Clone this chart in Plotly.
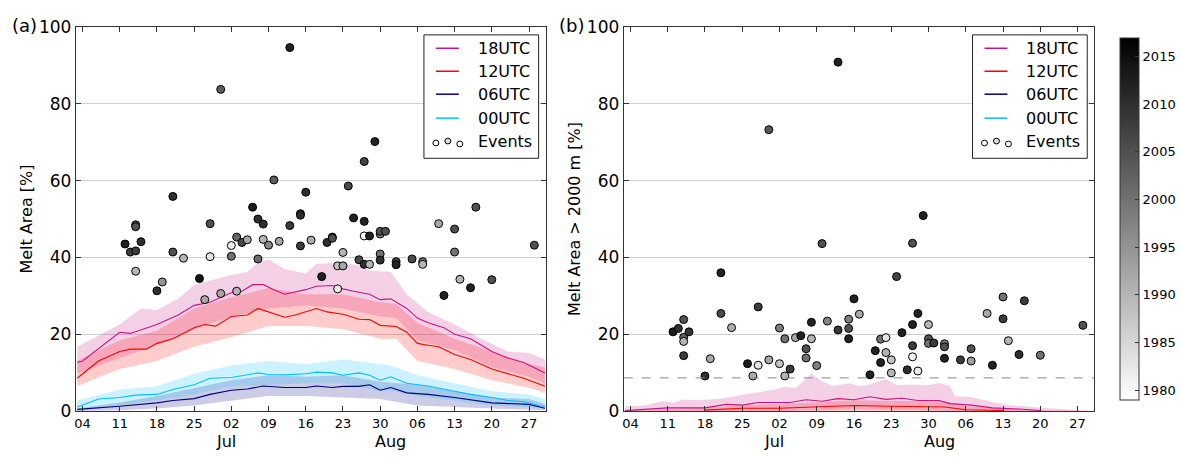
import plotly.graph_objects as go

YEAR = "2001"

def d(lst):
    return [f"{YEAR}-{s}" for s in lst]

# ---------------- Panel (a) : Melt Area [%] ----------------
a18_dates = ["06-03","06-04","06-11","06-13","06-18","06-22","06-25","06-28","07-02","07-04","07-06","07-08",
             "07-10","07-12","07-16","07-18","07-21","07-23","07-25","07-28","07-30","08-01","08-04","08-06",
             "08-08","08-11","08-13","08-16","08-20","08-23","08-26","08-30"]
a18_mean = [12.6,13,20.5,20.2,22.5,25,27.5,28.3,30.8,31.2,32.9,32.9,31.6,30.4,31.6,32.5,32.7,31.8,31.2,30.4,
            29,29.2,26.7,24.2,23,21.7,20,18.8,15.5,13.8,12.6,9.9]
a18_up_dates = ["06-03","06-11","06-15","06-18","06-22","06-25","07-02","07-05","07-07","07-09","07-12","07-16",
                "07-18","07-23","07-26","07-28","08-01","08-04","08-08","08-13","08-18","08-23","08-27","08-30"]
a18_up = [16.7,22.5,26.7,26.3,29.2,32.9,35.4,36.2,38.7,39.5,37,35.8,38.3,38.7,37.9,36.6,36.2,30.4,25.8,22.5,
          18.8,15.5,15.1,13.4]
a18_lo_dates = ["06-03","06-11","06-18","06-25","07-02","07-09","07-16","07-23","07-30","08-02","08-06","08-13",
                "08-20","08-27","08-30"]
a18_lo = [9.7,13.8,17.1,21.3,24.6,26.7,27.5,26.7,24.6,24.2,18.4,15.9,11.4,8.9,7.2]

a12_dates = ["06-03","06-07","06-11","06-13","06-16","06-18","06-21","06-25","06-27","06-29","07-02","07-05",
             "07-07","07-09","07-12","07-14","07-16","07-18","07-20","07-23","07-26","07-28","07-30","08-02",
             "08-04","08-06","08-08","08-10","08-13","08-16","08-20","08-23","08-26","08-30"]
a12_mean = [8.5,13,15.5,16.1,16.1,17.6,18.8,21.7,22.5,22.1,24.6,25,26.7,25.8,24.4,25,25.8,26.7,25.8,25.2,
            23.9,23.8,22.3,22,20.5,17.6,17.1,16.7,14.7,13.4,10.9,9.7,8.5,6.4]
a12_band_dates = ["06-03","06-11","06-18","06-25","07-02","07-09","07-16","07-23","07-30","08-02","08-06",
                  "08-13","08-20","08-27","08-30"]
a12_up = [13,18.4,20.9,26.7,29.6,32,30.4,30.4,28.3,27.9,23,18.8,15.5,12.2,11.4]
a12_lo = [6.4,10.9,13,16.7,19.2,22.1,22.1,21.3,18.8,18.8,13,10.9,8,6,4.7]

a00_dates = ["06-03","06-07","06-11","06-14","06-18","06-21","06-25","06-28","07-02","07-05","07-07","07-09",
             "07-12","07-16","07-18","07-21","07-23","07-26","07-28","07-30","08-01","08-04","08-06","08-08",
             "08-13","08-16","08-20","08-23","08-26","08-30"]
a00_mean = [1,3.1,3.5,4.1,4.3,5.6,6.8,8.5,8.7,9.5,9.9,9.5,9.4,9.7,10.1,9.9,9.3,9.9,9.3,8,8.9,7.2,6.8,6.5,
            5.1,4.3,3.5,2.7,2.4,1]
a00_band_dates = ["06-03","06-11","06-18","06-25","07-02","07-09","07-16","07-23","07-30","08-01","08-06",
                  "08-13","08-20","08-27","08-30"]
a00_up = [2.7,5.6,6.4,9.7,11.8,13,12.2,13.4,12.2,11.8,9.3,7.2,5.1,4.3,3.1]
a00_lo = [0,1.4,2.7,4.3,6.4,6.8,7.2,7.2,5.1,5.3,3.9,2.7,1.4,1,0.6]

a06_dates = ["06-03","06-11","06-18","06-21","06-25","06-28","07-02","07-05","07-08","07-12","07-16","07-18",
             "07-21","07-23","07-26","07-28","07-30","08-01","08-04","08-08","08-13","08-16","08-20","08-27","08-30"]
a06_mean = [0.4,1.2,2.1,2.7,3.2,4.3,5.4,5.7,6.5,6.1,6.1,6.5,6.1,6.4,6.4,6.8,5.4,6.1,4.7,4.3,3.5,2.9,2.1,1.7,0.7]
a06_band_dates = ["06-03","06-11","06-18","06-25","07-02","07-09","07-16","07-23","07-30","08-06","08-13",
                  "08-20","08-27","08-30"]
a06_up = [0.6,2.2,3.9,6,8,9.3,8.9,9.3,7.6,6.8,5.1,3.5,3.1,1.8]
a06_lo = [0,0.2,0.6,1.4,2.7,3.9,3.9,3.5,3.1,1.4,1,0.6,0.3,0.2]

a_evt_dates = ["06-12","06-13","06-14","06-14","06-14","06-14","06-15","06-18","06-19","06-21","06-21","06-23",
               "06-26","06-27","06-28","06-28","06-30","06-30","07-02","07-02","07-03","07-03","07-04","07-05",
               "07-06","07-07","07-07","07-08","07-08","07-09","07-10","07-11","07-13","07-13","07-15","07-15",
               "07-15","07-16","07-17","07-19","07-20","07-21","07-21","07-22","07-22","07-23","07-23","07-24",
               "07-25","07-26","07-27","07-27","07-27","07-27","07-28","07-28","07-29","07-30","07-30","07-30",
               "07-30","07-31","08-02","08-02","08-05","08-07","08-07","08-10","08-11","08-13","08-13","08-14",
               "08-16","08-17","08-20","08-28"]
a_evt_vals = [43.5,41.4,41.7,48.5,48.0,36.4,44.1,31.3,33.6,55.9,41.4,39.8,34.5,29.0,48.8,40.2,83.8,30.6,40.3,43.1,
              45.3,31.2,43.9,44.6,53.1,50.0,39.6,48.7,44.7,43.2,60.2,44.2,94.7,48.3,43.0,51.4,51.0,57.0,44.5,35.0,
              43.9,45.3,45.0,31.8,37.8,41.3,37.8,58.6,50.3,39.4,65.0,49.4,45.6,38.2,45.6,38.2,70.2,46.1,46.8,40.9,
              39.3,46.8,38.9,38.1,39.6,38.9,38.2,48.8,30.1,47.4,41.4,34.3,32.1,53.1,34.2,43.2]
a_evt_years = [2012,2008,2008,2005,2005,1990,2010,2010,1995,2010,2005,1990,2014,1992,2005,1983,2003,1992,2000,1982,
               2002,1990,2006,1992,2013,2010,2001,2010,1990,1997,2003,1992,2012,2008,2008,2007,2010,2010,1991,2012,
               2010,2008,2005,1982,1988,1990,1992,2006,2012,2006,2007,2012,1980,2010,2012,1990,2012,1998,2005,2000,
               2010,2005,2007,2012,2006,2000,1990,1992,2012,2005,2000,1990,2012,2005,2005,2005]

# ---------------- Panel (b) : Melt Area > 2000 m [%] ----------------
b18_dates = ["06-03","06-11","06-18","06-22","06-25","06-28","07-01","07-04","07-07","07-10","07-13","07-16",
             "07-19","07-22","07-25","07-28","08-01","08-03","08-07","08-11","08-16","08-20"]
b18_mean = [0.1,0.8,0.8,1.7,1.5,2.2,2.2,2.2,2.9,2.5,3.2,2.9,3.7,3.0,3.3,2.7,2.7,1.9,1.5,0.8,0.5,0.1]
b18_up_dates = ["06-03","06-07","06-10","06-12","06-14","06-17","06-21","06-23","06-26","06-28","07-01","07-03",
                "07-05","07-08","07-10","07-12","07-15","07-17","07-19","07-22","07-24","07-27","07-30","08-01",
                "08-03","08-04","08-07","08-11","08-14","08-17","08-20","08-24","08-27","08-30"]
b18_up = [1.1,1.5,2.5,2.1,3.0,2.8,3.2,3.6,4.4,4.8,5.5,6.3,5.9,9.7,7.7,6.5,7.2,6.5,6.9,8.3,6.7,6.9,6.7,7.3,
          6.5,3.8,3.6,2.3,1.5,1.2,0.8,0.5,0.2,0]
b18_lo_dates = ["06-03","06-25","07-02","07-09","07-16","07-23","07-30","08-03","08-10","08-30"]
b18_lo = [0,0,0,0.2,0.4,0.3,0.2,0,0,0]

b12_dates = ["06-18","06-25","07-02","07-09","07-16","07-23","07-30","08-02","08-06","08-13"]
b12_mean = [0.2,0.7,0.7,1.0,1.4,1.2,1.1,1.0,0.3,0.1]
b12_band_dates = ["06-03","06-18","06-25","07-02","07-09","07-16","07-23","07-30","08-02","08-06","08-13",
                  "08-20","08-30"]
b12_up = [0.2,0.8,1.5,1.8,2.2,2.8,2.6,2.6,2.5,1.2,0.6,0.2,0]
b12_lo = [0,0,0,0,0,0,0,0,0,0,0,0,0]

b_threshold = 8.6

b_evt_dates = ["06-12","06-13","06-14","06-14","06-14","06-14","06-15","06-18","06-19","06-21","06-21","06-23",
               "06-26","06-27","06-28","06-28","06-30","06-30","07-02","07-02","07-03","07-03","07-04","07-05",
               "07-06","07-07","07-07","07-08","07-08","07-09","07-10","07-11","07-13","07-13","07-15","07-15",
               "07-15","07-16","07-17","07-19","07-20","07-21","07-21","07-22","07-22","07-23","07-23","07-24",
               "07-25","07-26","07-27","07-27","07-27","07-27","07-28","07-28","07-29","07-30","07-30","07-30",
               "07-31","08-02","08-02","08-02","08-05","08-07","08-07","08-10","08-11","08-13","08-13","08-14",
               "08-16","08-17","08-20","08-28"]
b_evt_vals = [20.6,21.5,23.8,19.2,18.1,14.4,20.6,9.1,13.6,36.0,25.4,21.7,12.3,9.1,27.1,11.9,73.3,13.3,21.6,12.3,
              18.8,9.1,10.9,19.1,19.6,16.2,13.8,23.1,18.8,11.8,43.6,23.4,90.9,21.1,23.9,21.5,18.8,29.2,25.2,9.4,
              15.7,18.7,12.6,19.1,15.2,13.3,9.9,35.0,20.4,10.7,43.7,22.5,17.0,14.1,25.4,10.4,50.9,22.5,18.8,17.6,
              17.7,17.5,16.7,13.7,13.3,16.2,13.0,25.4,11.9,29.7,24.0,18.3,14.7,28.7,14.5,22.3]
b_evt_years = [2013,2010,2005,2003,1990,2008,2009,2010,1992,2012,2006,1991,2013,1991,2008,1983,2004,1992,1998,1988,
               2000,1990,2008,1992,2012,2005,2000,2012,1990,1998,2005,1997,2012,2009,1998,2005,2012,2012,1992,2012,
               2012,2000,2012,1983,1990,1988,1990,2007,2012,2010,2005,2012,2008,1981,2012,1982,2012,1990,2005,2000,
               2008,1998,2005,2012,2008,2005,1993,1992,2012,2000,2008,1990,2010,2008,2000,2005]

tick_days = ["06-04","06-11","06-18","06-25","07-02","07-09","07-16","07-23","07-30","08-06","08-13","08-20","08-27"]
month_labels = ["Jul", "Aug"]
month_pos = ["07-01", "08-01"]
legend_labels = ["18UTC", "12UTC", "06UTC", "00UTC", "Events"]
cbar_ticks = [1980, 1985, 1990, 1995, 2000, 2005, 2010, 2015]
year_min, year_max = 1979, 2017

# ---------------- styles ----------------
C18, C12, C06, C00 = "#c71585", "#ff0000", "#000080", "#00bfff"
F18 = "rgba(199,21,133,0.2)"
F12 = "rgba(255,0,0,0.2)"
F06 = "rgba(0,0,128,0.2)"
F00 = "rgba(0,191,255,0.2)"
FONT = "DejaVu Sans"
W, H = 1181, 463

fig = go.Figure()

def band(up_d, up, lo_d, lo, color, xa, ya):
    xs = d(up_d) + d(lo_d)[::-1]
    ys = list(up) + list(lo)[::-1]
    fig.add_trace(go.Scatter(x=xs, y=ys, fill="toself", fillcolor=color, line=dict(width=0),
                             mode="lines", hoverinfo="skip", showlegend=False, xaxis=xa, yaxis=ya))

def line(dates, vals, color, xa, ya):
    fig.add_trace(go.Scatter(x=d(dates), y=vals, mode="lines", line=dict(color=color, width=1.1),
                             showlegend=False, xaxis=xa, yaxis=ya))

# panel a
band(a18_up_dates, a18_up, a18_lo_dates, a18_lo, F18, "x", "y")
band(a12_band_dates, a12_up, a12_band_dates, a12_lo, F12, "x", "y")
band(a06_band_dates, a06_up, a06_band_dates, a06_lo, F06, "x", "y")
band(a00_band_dates, a00_up, a00_band_dates, a00_lo, F00, "x", "y")
line(a18_dates, a18_mean, C18, "x", "y")
line(a12_dates, a12_mean, C12, "x", "y")
line(a06_dates, a06_mean, C06, "x", "y")
line(a00_dates, a00_mean, C00, "x", "y")

# panel b
band(b18_up_dates, b18_up, b18_lo_dates, b18_lo, F18, "x2", "y2")
band(b12_band_dates, b12_up, b12_band_dates, b12_lo, F12, "x2", "y2")
line(b18_dates, b18_mean, C18, "x2", "y2")
line(b12_dates, b12_mean, C12, "x2", "y2")

def events(dates, vals, years, xa, ya):
    fig.add_trace(go.Scatter(x=d(dates), y=vals, mode="markers",
                             marker=dict(size=8, color=years, coloraxis="coloraxis",
                                         line=dict(color="black", width=1)),
                             showlegend=False, xaxis=xa, yaxis=ya))

events(a_evt_dates, a_evt_vals, a_evt_years, "x", "y")
events(b_evt_dates, b_evt_vals, b_evt_years, "x2", "y2")

# ---------------- layout ----------------
ydom = [(H - 419) / H, (H - 18) / H]
xdom1 = [74 / W, 545 / W]
xdom2 = [623.3 / W, 1095 / W]
xrange_ = [f"{YEAR}-06-02 17:45", f"{YEAR}-08-30 03:00"]

xcommon = dict(type="date", range=xrange_, tickvals=d(tick_days), tickformat="%d",
               ticks="inside", ticklen=5, tickwidth=1, tickcolor="#333", mirror="ticks",
               showline=True, linecolor="#333", linewidth=1, showgrid=False, zeroline=False,
               tickfont=dict(family=FONT, size=13, color="black"))
ycommon = dict(range=[0, 100], tickvals=[0, 20, 40, 60, 80, 100], ticks="inside", ticklen=5,
               tickwidth=1, tickcolor="#333", mirror="ticks", showline=True, linecolor="#333",
               linewidth=1, showgrid=True, gridcolor="#d0d0d0", gridwidth=1, zeroline=False,
               tickfont=dict(family=FONT, size=17, color="black"), domain=ydom)

fig.update_layout(
    width=W, height=H, margin=dict(l=0, r=0, t=0, b=0),
    paper_bgcolor="white", plot_bgcolor="white",
    font=dict(family=FONT, color="black"),
    showlegend=False,
    xaxis={**xcommon, "domain": xdom1, "anchor": "y"},
    xaxis2={**xcommon, "domain": xdom2, "anchor": "y2"},
    yaxis={**ycommon, "anchor": "x",
           "title": dict(text="Melt Area [%]", font=dict(size=16), standoff=2)},
    yaxis2={**ycommon, "anchor": "x2",
            "title": dict(text="Melt Area > 2000 m [%]", font=dict(size=16), standoff=2)},
    coloraxis=dict(colorscale=[[0, "white"], [1, "black"]], cmin=year_min, cmax=year_max,
                   colorbar=dict(x=1121 / W, xanchor="left", y=1 - 218 / H, yanchor="middle",
                                 thickness=19, thicknessmode="pixels", len=362, lenmode="pixels",
                                 outlinewidth=1, outlinecolor="#333", tickvals=cbar_ticks,
                                 ticks="inside", ticklen=4, tickcolor="#333",
                                 tickfont=dict(family=FONT, size=13, color="black"),
                                 xpad=0, ypad=0)),
)

shapes = []
annotations = []

# dashed threshold line in panel b
shapes.append(dict(type="line", xref="x2 domain", yref="y2", x0=0, x1=1, y0=b_threshold, y1=b_threshold,
                   line=dict(color="#888", width=1, dash="dash"), layer="above"))

# panel labels and month labels
for txt, px in [("(a)", 8), ("(b)", 556)]:
    annotations.append(dict(text=txt, x=px / W, y=1 - 16 / H, xref="paper", yref="paper",
                            xanchor="left", yanchor="middle", showarrow=False,
                            font=dict(family=FONT, size=18, color="black")))
for xa in ["x", "x2"]:
    for lab, pos in zip(month_labels, month_pos):
        annotations.append(dict(text=lab, x=f"{YEAR}-{pos}", y=1 - 451 / H, xref=xa, yref="paper",
                                xanchor="center", yanchor="middle", showarrow=False,
                                font=dict(family=FONT, size=16, color="black")))

# manual legends (box + samples + text)
def px2x(px):
    return px / W

def px2y(py):
    return 1 - py / H

line_colors = [C18, C12, C06, C00]
row_y = [40, 64, 88, 113, 137]
evt_symbol_fill = ["white", "#dddddd", "white"]
evt_symbol_dx = [0, 12, 24]
evt_symbol_dy = [2, 0, 3]
for left in [423, 973]:
    right = left + 115
    shapes.append(dict(type="rect", xref="paper", yref="paper", x0=px2x(left), x1=px2x(right),
                       y0=px2y(155), y1=px2y(26), fillcolor="white", line=dict(color="#222", width=1),
                       layer="above"))
    for i, c in enumerate(line_colors):
        shapes.append(dict(type="line", xref="paper", yref="paper", x0=px2x(left + 12), x1=px2x(left + 35),
                           y0=px2y(row_y[i]), y1=px2y(row_y[i]), line=dict(color=c, width=1.5),
                           layer="above"))
    for fc, dx, dy in zip(evt_symbol_fill, evt_symbol_dx, evt_symbol_dy):
        cx, cy = left + 12 + dx, row_y[4] + dy
        shapes.append(dict(type="circle", xref="paper", yref="paper", x0=px2x(cx - 3), x1=px2x(cx + 3),
                           y0=px2y(cy + 3), y1=px2y(cy - 3), fillcolor=fc,
                           line=dict(color="black", width=1), layer="above"))
    for i, lab in enumerate(legend_labels):
        annotations.append(dict(text=lab, x=px2x(left + 52), y=px2y(row_y[i]), xref="paper", yref="paper",
                                xanchor="left", yanchor="middle", showarrow=False,
                                font=dict(family=FONT, size=16, color="black")))

fig.update_layout(shapes=shapes, annotations=annotations)
fig.write_html("out.html")
